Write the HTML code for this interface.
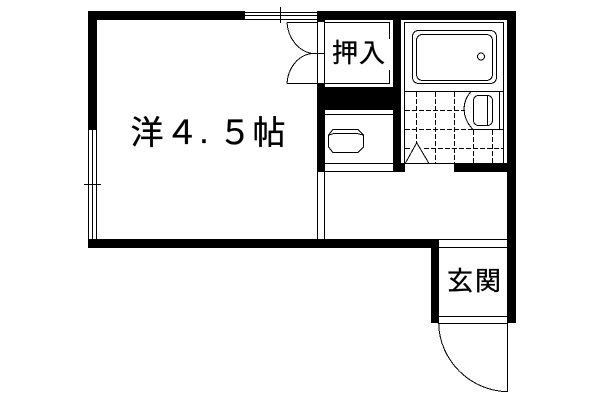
<!DOCTYPE html>
<html>
<head>
<meta charset="utf-8">
<style>
html,body{margin:0;padding:0;background:#fff;width:600px;height:400px;overflow:hidden}
svg{display:block}
text{font-family:"Liberation Sans","Noto Sans CJK JP",sans-serif;fill:#000;stroke:#000;stroke-width:.35;text-anchor:middle}
.l{fill:none;stroke:#000;stroke-width:1;shape-rendering:crispEdges}
.a{fill:none;stroke:#000;stroke-width:1;shape-rendering:crispEdges}
.d{fill:none;stroke:#000;stroke-width:1;stroke-dasharray:5 2;shape-rendering:crispEdges}
.b{fill:#000;shape-rendering:crispEdges}
</style>
</head>
<body>
<svg width="600" height="400" viewBox="0 0 600 400" xmlns="http://www.w3.org/2000/svg">
<!-- outer walls -->
<rect class="b" x="88" y="11" width="157" height="9"/>
<rect class="b" x="88" y="11" width="9" height="119"/>
<rect class="b" x="88" y="239" width="351" height="9"/>
<rect class="b" x="317" y="11" width="199" height="9"/>
<rect class="b" x="507" y="11" width="9" height="312"/>
<rect class="b" x="431" y="239" width="8" height="84"/>
<!-- interior black -->
<rect class="b" x="317" y="11" width="8" height="11"/>
<rect class="b" x="317" y="83" width="8" height="89"/>
<rect class="b" x="317" y="87" width="84" height="23"/>
<rect class="b" x="393" y="11" width="8" height="161"/>
<rect class="b" x="393" y="163" width="12" height="9"/>
<rect class="b" x="454" y="163" width="53" height="9"/>
<!-- top window -->
<path class="l" d="M245 12.500H317M245 15.500H317M245 19.500H317M280.500 7V23"/>
<!-- left window -->
<path class="l" d="M88.500 130V239M92.500 130V239M96.500 130V239M84 184.500H101"/>
<!-- partition lines -->
<path class="l" d="M317.500 22V83M324.500 22V83M317.500 172V239M324.500 172V239"/>
<!-- closet doors -->
<path class="l" d="M287 22.500H318M287 83.500H318M312 53.500H325"/>
<path class="a" d="M287 22.500C288 38 298 51 312 53.500C298 55 288 68 287 83.500"/>
<!-- closet inner -->
<path class="l" d="M325 22.500H389.500V39M389.500 70V83.500H325"/>
<!-- bath frame -->
<path class="l" d="M404.500 22.500H503.500V163.500H404.500ZM404.500 91.500H503.500"/>
<!-- tub -->
<rect class="a" x="412.500" y="30.500" width="84" height="53" rx="6"/>
<rect class="a" x="416.500" y="34.500" width="76" height="46" rx="6"/>
<circle class="a" cx="481" cy="56.500" r="3.500"/>
<!-- tiles -->
<path class="d" d="M416.500 92V143M435.500 92V163M454.500 92V163M473.500 130V163M492.500 130V163"/>
<path class="d" d="M405 110.500H465M405 129.500H503M405 148.500H410M424 148.500H503"/>
<!-- toilet -->
<path class="l" d="M470 129.500H503M499.500 91.500V129.500"/>
<path class="a" d="M471 91.500C461 103 462 118 473 129.500"/>
<rect class="a" x="473.500" y="95.500" width="19" height="30" rx="5"/>
<path class="l" d="M487.500 96V125"/>
<!-- triangle -->
<path class="a" d="M405.500 163L416.700 142.700L428.700 163"/>
<!-- kitchen -->
<path class="l" d="M325 114.500H393M325 163.500H393M325 171.500H393"/>
<path class="l" d="M333 129.500H358L363.500 135V147L358 152.500H333L328.500 147V135Z"/>
<path class="l" d="M329 135L334 133.500H357L363 135"/>
<!-- entry -->
<path class="l" d="M439 239.500H507M439 247.500H507M439 316.500H507M439 323.500H507"/>
<path class="l" d="M507.500 323V392"/>
<path class="a" d="M438.700 323C439 360 470 391 507.500 391.700"/>
<!-- labels -->
<text x="147" y="144" font-size="33">洋</text>
<text x="182" y="144" font-size="33">４</text>
<text x="204" y="143" font-size="33">.</text>
<text x="235" y="144" font-size="33">５</text>
<text x="269" y="144" font-size="33">帖</text>
<text x="345" y="62" font-size="26">押</text>
<text x="372" y="62" font-size="26">入</text>
<text x="460" y="290" font-size="26">玄</text>
<text x="488" y="290" font-size="26">関</text>
</svg>
</body>
</html>
